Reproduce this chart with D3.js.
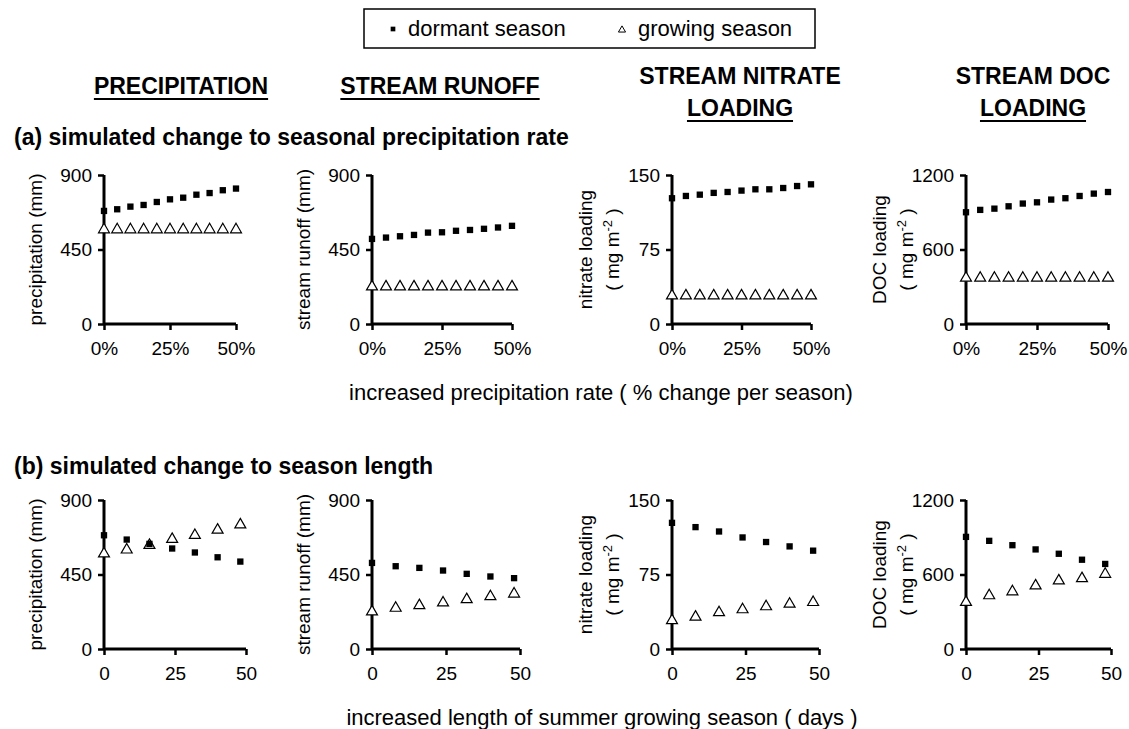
<!DOCTYPE html>
<html>
<head>
<meta charset="utf-8">
<script src="https://cdn.jsdelivr.net/npm/d3@7"></script>
<style>
  body { margin: 0; background: #fff; }
  text { font-family: "Liberation Sans", Arial, sans-serif; fill: #000; }
</style>
</head>
<body>
<svg id="chart" width="1129" height="729"></svg>
<script>
// x positions of the simulations
var rateSteps = [0, 5, 10, 15, 20, 25, 30, 35, 40, 45, 50];   // % change per season
var daySteps = [0, 8, 16, 24, 32, 40, 48];                      // extra growing-season days

// (a) simulated change to seasonal precipitation rate
var ratePrecipDormant = [683, 693, 709, 719, 737, 753, 763, 781, 791, 808, 818];
var ratePrecipGrowing = [570, 570, 570, 570, 570, 570, 570, 570, 570, 570, 570];
var rateRunoffDormant = [514, 522, 530, 538, 552, 554, 563, 568, 575, 583, 593];
var rateRunoffGrowing = [225, 225, 225, 225, 225, 225, 225, 225, 225, 225, 225];
var rateNitrateDormant = [126.6, 128.9, 130.2, 132.0, 132.9, 134.3, 135.6, 135.6, 136.9, 138.9, 140.6];
var rateNitrateGrowing = [28.5, 28.5, 28.5, 28.5, 28.5, 28.5, 28.5, 28.5, 28.5, 28.5, 28.5];
var rateDocDormant = [900, 919, 929, 948, 970, 980, 1002, 1013, 1031, 1050, 1063];
var rateDocGrowing = [370, 370, 370, 370, 370, 370, 370, 370, 370, 370, 370];

// (b) simulated change to season length
var lenPrecipDormant = [687, 661, 635, 607, 583, 554, 528];
var lenPrecipGrowing = [575, 599, 627, 663, 687, 719, 751];
var lenRunoffDormant = [520, 500, 490, 474, 454, 438, 428];
var lenRunoffGrowing = [225, 247, 263, 279, 299, 317, 333];
var lenNitrateDormant = [127, 122.7, 118.3, 112.3, 107.7, 103.3, 99];
var lenNitrateGrowing = [28.7, 32.3, 36.7, 39.7, 42.7, 45.3, 47];
var lenDocDormant = [903, 871, 836, 802, 767, 719, 685];
var lenDocGrowing = [377, 430, 462, 510, 550, 568, 603];

// axis ticks
var xTicks = [0, 25, 50];
var precipTicks = [0, 450, 900];
var nitrateTicks = [0, 75, 150];
var docTicks = [0, 600, 1200];

var columnTitles = [["PRECIPITATION"], ["STREAM RUNOFF"], ["STREAM NITRATE", "LOADING"], ["STREAM DOC", "LOADING"]];

var svg = d3.select("#chart");

// legend
svg.append("rect")
    .attr("x", 364).attr("y", 9).attr("width", 451).attr("height", 39)
    .style("fill", "none").style("stroke", "#000").style("stroke-width", 1.5);
svg.append("path")
    .attr("d", d3.symbol().type(d3.symbolSquare).size(22))
    .attr("transform", "translate(393,29)");
svg.append("text").attr("x", 408).attr("y", 36).style("font-size", "22px").text("dormant season");
svg.append("path")
    .attr("d", d3.symbol().type(d3.symbolTriangle).size(22))
    .attr("transform", "translate(622,30)")
    .style("fill", "#fff").style("stroke", "#000").style("stroke-width", 1);
svg.append("text").attr("x", 638).attr("y", 36).style("font-size", "22px").text("growing season");

// column titles, last line underlined
var titleX = [181, 440, 740, 1033];
columnTitles.forEach(function(lines, i) {
    var y0 = lines.length == 1 ? 94 : 84;
    lines.forEach(function(line, j) {
        var t = svg.append("text")
            .attr("x", titleX[i]).attr("y", y0 + j * 32)
            .attr("text-anchor", "middle")
            .style("font-size", "23px").style("font-weight", "bold")
            .text(line);
        if (j == lines.length - 1) {
            var w = t.node().getComputedTextLength();
            svg.append("line")
                .attr("x1", titleX[i] - w / 2).attr("x2", titleX[i] + w / 2)
                .attr("y1", y0 + j * 32 + 5).attr("y2", y0 + j * 32 + 5)
                .style("stroke", "#000").style("stroke-width", 2);
        }
    });
});

svg.append("text").attr("x", 14).attr("y", 145)
    .style("font-size", "23px").style("font-weight", "bold")
    .text("(a) simulated change to seasonal precipitation rate");
svg.append("text").attr("x", 14).attr("y", 474)
    .style("font-size", "23px").style("font-weight", "bold")
    .text("(b) simulated change to season length");

svg.append("text").attr("x", 601).attr("y", 400).attr("text-anchor", "middle")
    .style("font-size", "22px")
    .text("increased precipitation rate ( % change per season)");
svg.append("text").attr("x", 602).attr("y", 725).attr("text-anchor", "middle")
    .style("font-size", "22px")
    .text("increased length of summer growing season ( days )");

// one small panel
function panel(opt) {
    var x = d3.scaleLinear().domain([0, 50]).range([opt.left, opt.right]);
    var y = d3.scaleLinear().domain([0, opt.ticks[2]]).range([opt.bottom, opt.top]);

    var g = svg.append("g");

    var ax = g.append("g")
        .attr("transform", "translate(0," + opt.bottom + ")")
        .call(d3.axisBottom(x).tickValues(xTicks).tickSize(6).tickPadding(12)
            .tickFormat(function(d) { return opt.pct ? d + "%" : d; }));
    var ay = g.append("g")
        .attr("transform", "translate(" + opt.left + ",0)")
        .call(d3.axisLeft(y).tickValues(opt.ticks).tickSize(6).tickPadding(6)
            .tickFormat(d3.format("d")));
    [ax, ay].forEach(function(a) {
        a.select(".domain").style("stroke-width", 3);
        a.selectAll(".tick line").style("stroke-width", 2.5);
        a.selectAll("text").style("font-size", "19px").style("font-family", '"Liberation Sans", Arial, sans-serif');
    });
    // axis lines without outer end ticks
    ax.select(".domain").attr("d", "M" + opt.left + ",0H" + opt.right);
    ay.select(".domain").attr("d", "M0," + opt.top + "V" + opt.bottom);

    // y label
    var cy = (opt.top + opt.bottom) / 2;
    if (opt.label.length == 1) {
        g.append("text")
            .attr("transform", "translate(" + (opt.left - 62) + "," + cy + ") rotate(-90)")
            .attr("text-anchor", "middle").style("font-size", "19px")
            .text(opt.label[0]);
    } else {
        g.append("text")
            .attr("transform", "translate(" + (opt.left - 80) + "," + cy + ") rotate(-90)")
            .attr("text-anchor", "middle").style("font-size", "19px")
            .text(opt.label[0]);
        var t2 = g.append("text")
            .attr("transform", "translate(" + (opt.left - 53) + "," + cy + ") rotate(-90)")
            .attr("text-anchor", "middle").style("font-size", "19px");
        t2.append("tspan").text("( mg m");
        t2.append("tspan").attr("baseline-shift", "super").style("font-size", "13px").text("-2");
        t2.append("tspan").text(" )");
    }

    var growing = opt.steps.map(function(s, i) { return { x: s, v: opt.growing[i] }; });
    var dormant = opt.steps.map(function(s, i) { return { x: s, v: opt.dormant[i] }; });

    g.selectAll(".grow").data(growing).enter().append("path")
        .attr("d", d3.symbol().type(d3.symbolTriangle).size(52))
        .attr("transform", function(d) { return "translate(" + x(d.x) + "," + y(d.v) + ")"; })
        .style("fill", "#fff").style("stroke", "#000").style("stroke-width", 1.2);
    g.selectAll(".dorm").data(dormant).enter().append("path")
        .attr("d", d3.symbol().type(d3.symbolSquare).size(40))
        .attr("transform", function(d) { return "translate(" + x(d.x) + "," + y(d.v) + ")"; })
        .style("fill", "#000");
}

var lefts = [104, 372, 672, 966];
var topRights = [236, 512, 811, 1108];
var botRights = [246, 520, 819, 1111];
var labels = [["precipitation (mm)"], ["stream runoff (mm)"], ["nitrate loading", "mg"], ["DOC loading", "mg"]];
var tickSets = [precipTicks, precipTicks, nitrateTicks, docTicks];
var rateDormant = [ratePrecipDormant, rateRunoffDormant, rateNitrateDormant, rateDocDormant];
var rateGrowing = [ratePrecipGrowing, rateRunoffGrowing, rateNitrateGrowing, rateDocGrowing];
var lenDormant = [lenPrecipDormant, lenRunoffDormant, lenNitrateDormant, lenDocDormant];
var lenGrowing = [lenPrecipGrowing, lenRunoffGrowing, lenNitrateGrowing, lenDocGrowing];

for (var i = 0; i < 4; i++) {
    panel({ left: lefts[i], right: topRights[i], top: 175, bottom: 324, ticks: tickSets[i],
            label: labels[i], pct: true, steps: rateSteps,
            dormant: rateDormant[i], growing: rateGrowing[i] });
    panel({ left: lefts[i], right: botRights[i], top: 500, bottom: 649, ticks: tickSets[i],
            label: labels[i], pct: false, steps: daySteps,
            dormant: lenDormant[i], growing: lenGrowing[i] });
}
</script>
</body>
</html>
